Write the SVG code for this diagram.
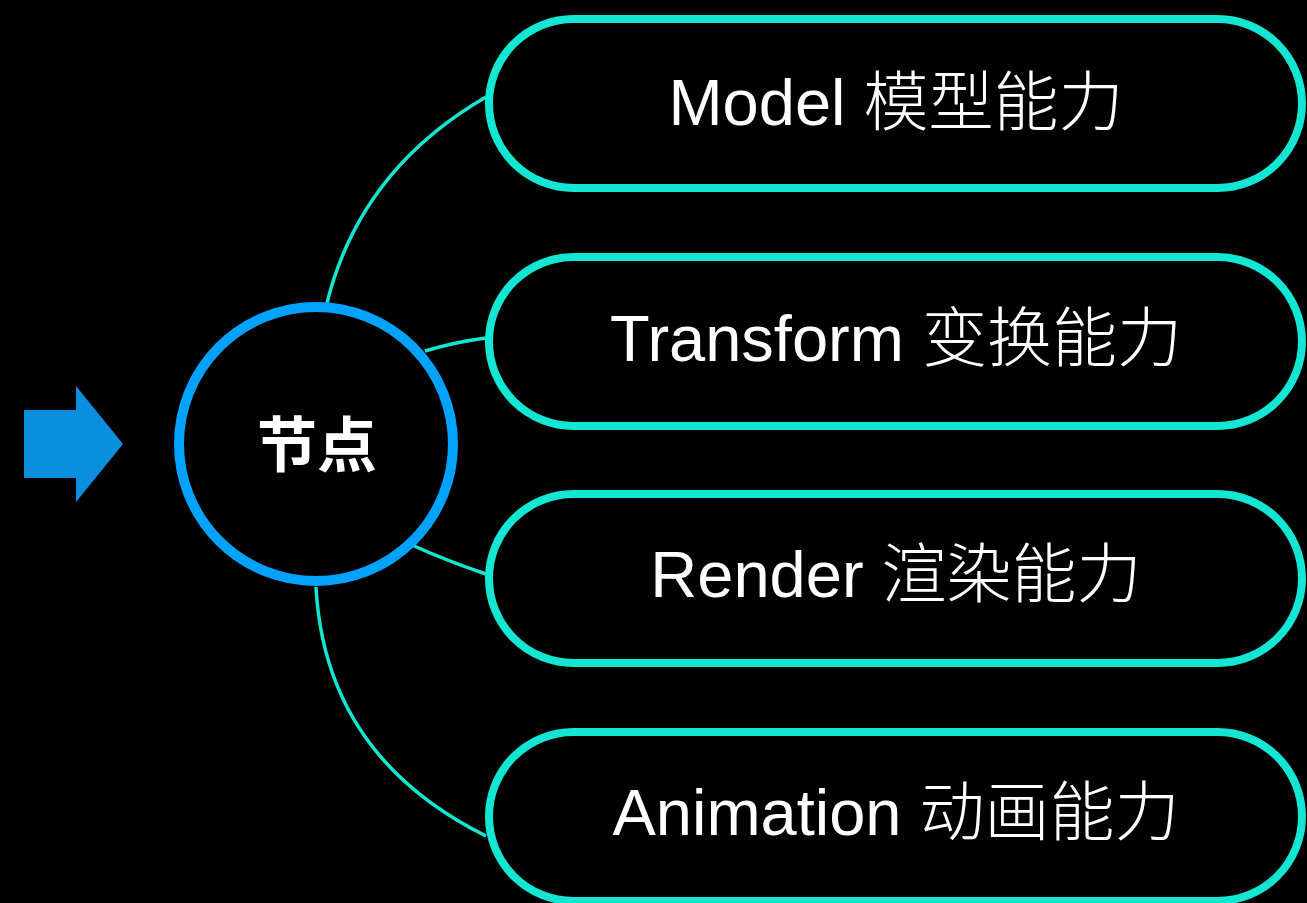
<svg xmlns="http://www.w3.org/2000/svg" width="1307" height="903" viewBox="0 0 1307 903">
<style>
.box{fill:#000;stroke:#14E6D4;stroke-width:8}
.conn{fill:none;stroke:#14E6D4;stroke-width:3.5}
.lbl{font-family:"Liberation Sans","Noto Sans CJK SC",sans-serif;font-size:65px;fill:#fff;text-anchor:middle}
.cjk{font-family:"Noto Sans CJK SC",sans-serif;font-weight:300}
</style>
<rect width="1307" height="903" fill="#000"/>
<g id="arrow"><polygon points="24,410 76,410 76,386 123,444 76,502 76,478 24,478" fill="#0A8FDF"/></g>
<g id="connectors">
<path class="conn" d="M327,303 Q360,170 486,97"/>
<path class="conn" d="M425,351 Q455,342 486,338"/>
<path class="conn" d="M414,546 Q450,562 486,574"/>
<path class="conn" d="M316,587 Q325,756 486,836"/>
</g>
<g id="node-center"><circle cx="316" cy="444" r="137" fill="#000" stroke="#00A2FF" stroke-width="10"/>
<text x="317" y="467" font-family="'Noto Sans CJK SC',sans-serif" font-size="60" font-weight="bold" fill="#fff" text-anchor="middle">节点</text></g>
<g id="node-model"><rect class="box" x="489" y="19" width="813" height="169" rx="84.5"/><text class="lbl" x="896" y="125">Model <tspan class="cjk">模型能力</tspan></text></g>
<g id="node-transform"><rect class="box" x="489" y="257" width="813" height="169" rx="84.5"/><text class="lbl" x="896" y="361">Transform <tspan class="cjk">变换能力</tspan></text></g>
<g id="node-render"><rect class="box" x="489" y="494" width="813" height="169" rx="84.5"/><text class="lbl" x="896" y="597">Render <tspan class="cjk">渲染能力</tspan></text></g>
<g id="node-animation"><rect class="box" x="489" y="732" width="813" height="169" rx="84.5"/><text class="lbl" x="896" y="835">Animation <tspan class="cjk">动画能力</tspan></text></g>
</svg>
